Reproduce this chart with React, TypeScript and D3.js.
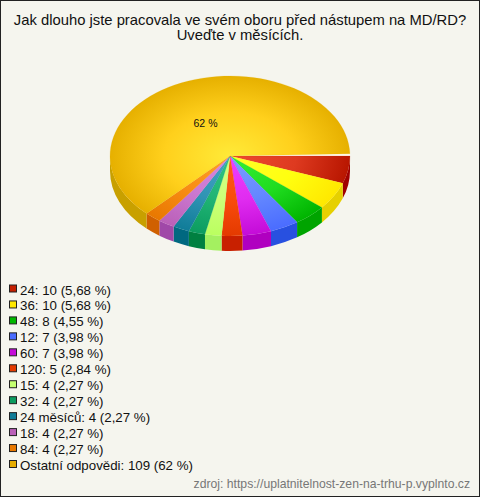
import { useEffect, useRef } from "react";
import * as d3 from "d3";

const title = ["Jak dlouho jste pracovala ve svém oboru před nástupem na MD/RD?", "Uveďte v měsících."];
const categories = ["24", "36", "48", "12", "60", "120", "15", "32", "24 měsíců", "18", "84", "Ostatní odpovědi"];
const values = [10, 10, 8, 7, 7, 5, 4, 4, 4, 4, 4, 109];
const shares = ["5,68 %", "5,68 %", "4,55 %", "3,98 %", "3,98 %", "2,84 %", "2,27 %", "2,27 %", "2,27 %", "2,27 %", "2,27 %", "62 %"];
const innerColors = ["#ee4a30", "#ffff28", "#34f034", "#7c9eff", "#f040ff", "#ff5a18", "#d4ff84", "#30c484", "#44a4c4", "#d888e0", "#ffa028", "#ffea38"];
const midColors = ["#de3a20", "#ffff10", "#20dc20", "#6488ff", "#e02cf0", "#f84c0c", "#ccff78", "#20b474", "#3094b4", "#cc78d0", "#f88c14", "#ffd01c"];
const outerColors = ["#b81600", "#ffe800", "#00b400", "#4a6cff", "#c40cd8", "#e43a00", "#baff60", "#0c9c60", "#107c98", "#ba60b8", "#e87800", "#e6b000"];
const sideColors = ["#a00000", "#e6d000", "#00a400", "#2850e0", "#b000c0", "#c82000", "#a4f060", "#008040", "#006880", "#a048a8", "#d06000", "#c8a000"];
const legendColors = ["#c41f00", "#ffe800", "#00b800", "#4a6cff", "#c40cd8", "#e43a00", "#c4ff70", "#0c9c60", "#107c98", "#ba60b8", "#e87800", "#e6ac00"];
const source = "zdroj: https://uplatnitelnost-zen-na-trhu-p.vyplnto.cz";

export default function App() {
  const ref = useRef<SVGSVGElement | null>(null);

  useEffect(() => {
    if (!ref.current) return;

    const width = 480;
    const height = 497;
    const cx = 230;
    const cy = 156;
    const rx = 120;
    const ry = 80;
    const depth = 15;
    const font = "'Liberation Sans', Arial, sans-serif";
    const rad = Math.PI / 180;

    const svg = d3.select(ref.current);
    svg.selectAll("*").remove();

    svg.append("rect")
      .attr("x", 0.5)
      .attr("y", 0.5)
      .attr("width", width - 1)
      .attr("height", height - 1)
      .attr("fill", "#f5f5ee")
      .attr("stroke", "#222");

    /* ---------------- TITLE ---------------- */

    svg.selectAll(".title")
      .data(title)
      .enter()
      .append("text")
      .attr("x", 240)
      .attr("y", (_, i) => 25 + i * 15)
      .attr("text-anchor", "middle")
      .attr("font-family", font)
      .attr("font-size", 14.8)
      .attr("fill", "#111")
      .text(d => d);

    /* ---------------- PIE ---------------- */

    // the original's tilt squeezes the small slices a little and leaves a sliver at the seam
    const start = Math.PI / 2;
    const warp = d3.scaleLinear()
      .domain([0, 137 * rad, 360 * rad])
      .range([0, 134 * rad, 358.3 * rad]);

    const pie = d3.pie<number>()
      .sort(null)
      .startAngle(0)
      .endAngle(2 * Math.PI);
    const slices = pie(values).map(s => ({
      ...s,
      startAngle: start + warp(s.startAngle),
      endAngle: start + warp(s.endAngle),
    }));

    const defs = svg.append("defs");
    slices.forEach((_, i) => {
      const grad = defs.append("radialGradient")
        .attr("id", `slice-${i}`)
        .attr("gradientUnits", "userSpaceOnUse")
        .attr("cx", 0)
        .attr("cy", 0)
        .attr("r", rx);
      grad.append("stop").attr("offset", "0%").attr("stop-color", innerColors[i]);
      grad.append("stop").attr("offset", "55%").attr("stop-color", midColors[i]);
      grad.append("stop").attr("offset", "100%").attr("stop-color", outerColors[i]);
    });

    // sides: only the part of each slice that faces the viewer
    const toScreen = (a: number) => a - Math.PI / 2;
    const px = (t: number) => cx + rx * Math.cos(t);
    const py = (t: number) => cy + ry * Math.sin(t);
    slices.forEach((s, i) => {
      const t0 = Math.max(toScreen(s.startAngle), 0);
      const t1 = Math.min(toScreen(s.endAngle), Math.PI);
      if (t1 <= t0) return;
      svg.append("path")
        .attr("fill", sideColors[i])
        .attr("d", `M${px(t0)},${py(t0)} A${rx},${ry} 0 0 1 ${px(t1)},${py(t1)} L${px(t1)},${py(t1) + depth} A${rx},${ry} 0 0 0 ${px(t0)},${py(t0) + depth} Z`);
    });

    const arc = d3.arc<d3.PieArcDatum<number>>()
      .innerRadius(0)
      .outerRadius(rx);

    const top = svg.append("g")
      .attr("transform", `translate(${cx},${cy}) scale(1,${ry / rx})`);

    top.append("path")
      .attr("fill", "#fff9ec")
      .attr("d", d3.arc()({ innerRadius: 0, outerRadius: rx, startAngle: slices[slices.length - 1].endAngle, endAngle: start + 2 * Math.PI }));

    top.selectAll(".slice")
      .data(slices)
      .enter()
      .append("path")
      .attr("fill", (_, i) => `url(#slice-${i})`)
      .attr("stroke", (_, i) => outerColors[i])
      .attr("stroke-width", 0.2)
      .attr("d", arc);

    svg.append("text")
      .attr("x", 205.5)
      .attr("y", 127)
      .attr("text-anchor", "middle")
      .attr("font-family", font)
      .attr("font-size", 10.5)
      .attr("fill", "#111")
      .text(shares[shares.length - 1]);

    /* ---------------- LEGEND ---------------- */

    const legendY = d3.scaleLinear()
      .domain([0, categories.length - 1])
      .range([289.5, 465]);

    const rows = svg.selectAll(".legend-row")
      .data(categories)
      .enter()
      .append("g")
      .attr("transform", (_, i) => `translate(0,${legendY(i)})`);

    rows.append("rect")
      .attr("x", 9.5)
      .attr("y", -4.5)
      .attr("width", 7)
      .attr("height", 7)
      .attr("fill", (_, i) => legendColors[i])
      .attr("stroke", "#222");

    rows.append("text")
      .attr("x", 20)
      .attr("y", 5)
      .attr("font-family", font)
      .attr("font-size", 13.3)
      .attr("fill", "#111")
      .text((d, i) => `${d}: ${values[i]} (${shares[i]})`);

    svg.append("text")
      .attr("x", 470)
      .attr("y", 488)
      .attr("text-anchor", "end")
      .attr("font-family", font)
      .attr("font-size", 12.2)
      .attr("fill", "#777")
      .text(source);
  }, []);

  return (
    <>
      <style>{"body{margin:0}svg{display:block}"}</style>
      <svg ref={ref} width={480} height={497} viewBox="0 0 480 497" />
    </>
  );
}
